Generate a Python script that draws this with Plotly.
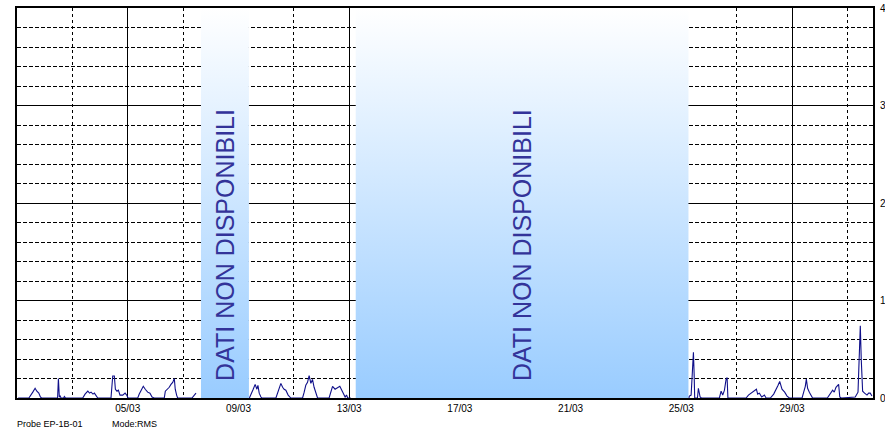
import pandas as pd
import plotly.graph_objects as go

BASE = pd.Timestamp("2023-03-01 00:00")

# --- data: hours since 01/03 00:00 and RMS values (three recorded periods) ---
hours_a = [1.0, 10.3, 13.7, 15.7, 17.2, 18.9, 20.3, 21.3, 35.2, 35.9, 36.7, 37.4, 38.2,
           40.4, 41.1, 42.1, 57.0, 59.0, 61.4, 62.9, 64.2, 65.9, 67.1, 68.5, 70.0,
           81.5, 82.4, 83.0, 84.4, 85.3, 86.7, 87.9, 89.3, 91.7, 93.7, 95.1, 96.3,
           104.7, 106.0, 107.5, 109.5, 111.2, 113.3, 115.3, 117.1, 119.0,
           127.7, 128.6, 130.6, 132.0, 133.5, 135.0, 136.4, 137.2, 138.4, 139.3,
           151.7, 153.4, 155.2]
rms_a = [0.0, 0.0, 0.06, 0.10, 0.07, 0.05, 0.01, 0.0, 0.0, 0.20, 0.01, 0.02, 0.0,
         0.0, 0.015, 0.0, 0.0, 0.04, 0.07, 0.05, 0.06, 0.04, 0.05, 0.02, 0.0,
         0.0, 0.11, 0.225, 0.225, 0.09, 0.07, 0.08, 0.03, 0.03, 0.05, 0.03, 0.0,
         0.0, 0.04, 0.07, 0.12, 0.09, 0.06, 0.05, 0.01, 0.0,
         0.0, 0.07, 0.09, 0.11, 0.14, 0.16, 0.20, 0.09, 0.03, 0.0,
         0.0, 0.03, 0.05]

hours_b = [201.5, 202.8, 204.8, 206.5, 208.0, 208.9, 210.0, 211.5, 212.3,
           224.5, 226.8, 228.8, 230.3, 231.6, 233.1, 235.1, 237.4,
           247.6, 249.0, 250.4, 251.9, 253.3, 254.8, 256.2, 257.6, 259.1, 260.6,
           270.6, 272.1, 273.6, 275.8, 277.9, 279.9, 281.6, 283.1, 284.5, 285.7,
           286.8, 289.4]
rms_b = [0.0, 0.03, 0.09, 0.14, 0.09, 0.13, 0.05, 0.01, 0.0,
         0.0, 0.09, 0.15, 0.11, 0.09, 0.08, 0.03, 0.0,
         0.0, 0.06, 0.13, 0.16, 0.23, 0.15, 0.19, 0.11, 0.05, 0.0,
         0.0, 0.06, 0.12, 0.09, 0.11, 0.12, 0.08, 0.05, 0.01, 0.03,
         0.0, 0.0]

hours_c = [582.6, 583.0, 584.5, 585.6, 586.5, 587.1, 587.6, 590.0, 590.8, 592.3, 593.4,
           609.0, 610.5, 611.9, 613.4, 614.8, 615.7, 616.4,
           632.2, 634.2, 636.5, 638.5, 641.1, 642.2, 643.7, 645.7, 648.0, 649.5,
           653.2, 656.1, 657.5, 659.9, 661.3, 663.3, 665.6, 667.7, 669.7,
           680.7, 682.1, 683.5, 684.4, 685.5, 687.0, 688.5, 689.8,
           702.6, 705.2, 707.2, 708.6, 710.1, 712.4, 713.4, 714.7,
           726.8, 729.2, 730.3, 731.2, 732.0, 733.2, 734.9, 737.0, 738.4, 739.8, 741.3]
rms_c = [0.0, 0.02, 0.03, 0.23, 0.47, 0.25, 0.0, 0.0, 0.10, 0.01, 0.0,
         0.0, 0.07, 0.03, 0.08, 0.19, 0.21, 0.0,
         0.0, 0.03, 0.05, 0.07, 0.09, 0.04, 0.05, 0.01, 0.03, 0.0,
         0.0, 0.04, 0.07, 0.13, 0.17, 0.09, 0.06, 0.02, 0.0,
         0.0, 0.06, 0.12, 0.195, 0.10, 0.06, 0.02, 0.0,
         0.0, 0.04, 0.08, 0.06, 0.11, 0.14, 0.01, 0.0,
         0.01, 0.06, 0.36, 0.74, 0.40, 0.07, 0.05, 0.03, 0.05, 0.05, 0.02]

# periods without data
gap_start = ["2023-03-07 15:30", "2023-03-13 05:42"]
gap_end = ["2023-03-09 09:06", "2023-03-25 06:12"]
gap_label = "DATI NON DISPONIBILI"

# axis labels
major_days = ["2023-03-05", "2023-03-09", "2023-03-13", "2023-03-17",
              "2023-03-21", "2023-03-25", "2023-03-29"]
minor_days = ["2023-03-03", "2023-03-07", "2023-03-11", "2023-03-15",
              "2023-03-19", "2023-03-23", "2023-03-27", "2023-03-31"]
major_text = ["05/03", "09/03", "13/03", "17/03", "21/03", "25/03", "29/03"]
x_range = ["2023-03-01 00:00", "2023-03-31 22:12"]
y_ticks = [0, 1, 2, 3, 4]
probe_text = "Probe EP-1B-01"
mode_text = "Mode:RMS"

FONT = "Liberation Sans"
LINE_COLOR = "#10108a"

fig = go.Figure()

# gradient bands for missing data
for gs, ge in zip(gap_start, gap_end):
    fig.add_trace(go.Scatter(
        x=[gs, gs, ge, ge, gs], y=[0, 4, 4, 0, 0],
        mode="lines", fill="toself", line=dict(width=0),
        fillgradient=dict(type="vertical",
                          colorscale=[[0, "#99CCFF"], [1, "#FFFFFF"]]),
        hoverinfo="skip", showlegend=False))
    mid = pd.Timestamp(gs) + (pd.Timestamp(ge) - pd.Timestamp(gs)) / 2
    fig.add_annotation(x=mid, y=1.57, text=gap_label, textangle=-90,
                       showarrow=False, xanchor="center", yanchor="middle",
                       font=dict(family=FONT, size=25, color="#333399"))

for hrs, vals in [(hours_a, rms_a), (hours_b, rms_b), (hours_c, rms_c)]:
    t = BASE + pd.to_timedelta(hrs, unit="h")
    fig.add_trace(go.Scatter(x=t, y=vals, mode="lines",
                             line=dict(color=LINE_COLOR, width=1.1),
                             showlegend=False, hoverinfo="x+y"))

fig.update_xaxes(
    range=x_range, type="date", automargin=False,
    tickmode="array", tickvals=major_days, ticktext=major_text,
    showgrid=True, gridcolor="#000000", gridwidth=1,
    minor=dict(tickmode="array", tickvals=minor_days, showgrid=True,
               gridcolor="#000000", gridwidth=1, griddash="3px,3px", ticks=""),
    showline=True, linecolor="#000000", linewidth=2, mirror=True,
    ticks="", zeroline=False,
    tickfont=dict(family=FONT, size=10, color="#000000"),
)
fig.update_yaxes(
    range=[0, 4], side="right", automargin=False,
    tickmode="array", tickvals=y_ticks, ticklabelstandoff=3,
    showgrid=True, gridcolor="#000000", gridwidth=1,
    minor=dict(dtick=0.2, showgrid=True, gridcolor="#000000", gridwidth=1,
               griddash="4px,2px", ticks=""),
    showline=True, linecolor="#000000", linewidth=2, mirror=True,
    ticks="", zeroline=False,
    tickfont=dict(family=FONT, size=10, color="#000000"),
)

fig.add_annotation(xref="paper", yref="paper", x=0, y=0, xanchor="left",
                   yanchor="middle", yshift=-26, xshift=-2, text=probe_text,
                   showarrow=False,
                   font=dict(family=FONT, size=9, color="#000000"))
fig.add_annotation(xref="paper", yref="paper", x=0, y=0, xanchor="left",
                   yanchor="middle", yshift=-26, xshift=93, text=mode_text,
                   showarrow=False,
                   font=dict(family=FONT, size=9, color="#000000"))

fig.update_layout(
    width=885, height=432,
    margin=dict(l=17, r=12, t=8, b=34),
    paper_bgcolor="#FFFFFF", plot_bgcolor="#FFFFFF",
    showlegend=False,
)

fig.write_html("out.html", config={"displayModeBar": False},
               post_script="document.body.style.margin='0';document.body.style.overflow='hidden';")
